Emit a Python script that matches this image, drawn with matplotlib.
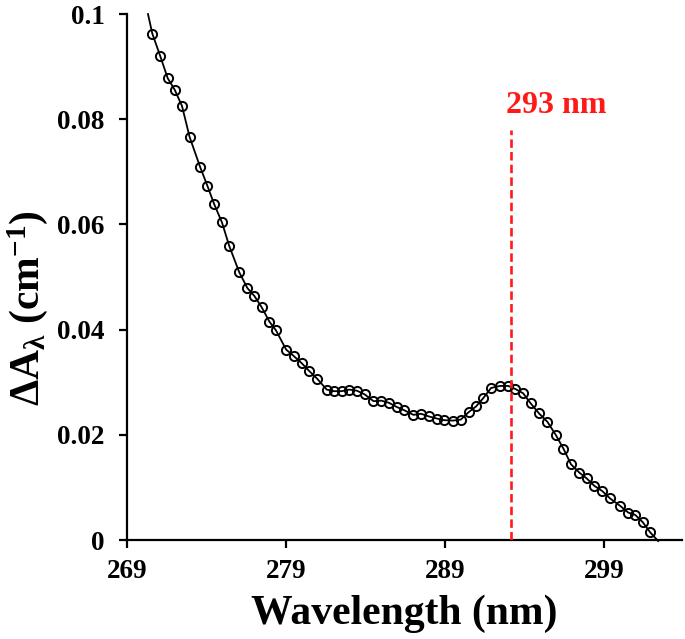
import matplotlib
matplotlib.use("Agg")
import matplotlib.pyplot as plt
from matplotlib.ticker import FixedLocator, FixedFormatter

plt.rcParams['font.family'] = ['Liberation Serif', 'DejaVu Serif']
plt.rcParams['font.weight'] = 'bold'
plt.rcParams['mathtext.fontset'] = 'custom'
plt.rcParams['mathtext.rm'] = 'Liberation Serif:bold'
plt.rcParams['mathtext.it'] = 'Liberation Serif:bold'
plt.rcParams['mathtext.bf'] = 'Liberation Serif:bold'

# Measured points (wavelength nm, delta A cm^-1)
wavelength = [270.59, 271.08, 271.56, 272.00, 272.46, 272.94, 273.59, 274.06, 274.49, 274.97,
              275.43, 276.06, 276.57, 277.01, 277.46, 277.96, 278.36, 279.01, 279.48, 279.99,
              280.47, 280.95, 281.56, 282.02, 282.50, 282.98, 283.45, 283.94, 284.50, 284.99,
              285.47, 285.96, 286.42, 287.01, 287.49, 287.98, 288.48, 288.91, 289.48, 289.99,
              290.48, 290.95, 291.41, 291.89, 292.46, 292.98, 293.43, 293.91, 294.38, 294.90,
              295.43, 295.96, 296.44, 296.92, 297.45, 297.91, 298.39, 298.89, 299.38, 300.01,
              300.53, 300.95, 301.43, 301.89]
delta_a = [0.0963, 0.0921, 0.0878, 0.0856, 0.0825, 0.0766, 0.0710, 0.0673, 0.0638, 0.0604,
           0.0559, 0.0509, 0.0479, 0.0464, 0.0443, 0.0415, 0.0399, 0.0362, 0.0350, 0.0336,
           0.0321, 0.0307, 0.0286, 0.0283, 0.0283, 0.0286, 0.0284, 0.0277, 0.0264, 0.0265,
           0.0261, 0.0253, 0.0247, 0.0238, 0.0240, 0.0235, 0.0231, 0.0228, 0.0227, 0.0229,
           0.0243, 0.0254, 0.0270, 0.0289, 0.0293, 0.0293, 0.0287, 0.0279, 0.0260, 0.0241,
           0.0225, 0.0200, 0.0174, 0.0144, 0.0128, 0.0117, 0.0103, 0.0093, 0.0079, 0.0065,
           0.0052, 0.0048, 0.0034, 0.0015]

# Fitted curve ends (drawn line only, beyond the markers)
line_start = (270.32, 0.1000)
line_end = (302.40, -0.0002)

peak_wavelength = 293.15
peak_line_top = 0.078
peak_label = "293 nm"

x_ticks = [269, 279, 289, 299]
x_tick_labels = ["269", "279", "289", "299"]
y_ticks = [0, 0.02, 0.04, 0.06, 0.08, 0.1]
y_tick_labels = ["0", "0.02", "0.04", "0.06", "0.08", "0.1"]

fig = plt.figure(figsize=(6.85, 6.39), dpi=100)
ax = fig.add_axes([0.1854, 0.1549, 0.8102, 0.8231])

line_x = [line_start[0]] + wavelength + [line_end[0]]
line_y = [line_start[1]] + delta_a + [line_end[1]]
ax.plot(line_x, line_y, color='black', lw=1.3, zorder=2, clip_on=False)
ax.plot(wavelength, delta_a, linestyle='none', marker='o', markersize=6.6,
        markerfacecolor='none', markeredgecolor='black', markeredgewidth=1.4, zorder=3)

ax.plot([peak_wavelength, peak_wavelength], [0, peak_line_top], color='#ff1a1a',
        lw=1.9, linestyle=(0, (3.2, 1.6)), zorder=4)
ax.text(peak_wavelength + 2.85, 0.0812, peak_label, color='#ff1a1a', fontsize=23,
        fontweight='bold', ha='center', va='baseline')

ax.set_xlim(269, 303.9)
ax.set_ylim(0, 0.1)
ax.xaxis.set_major_locator(FixedLocator(x_ticks))
ax.xaxis.set_major_formatter(FixedFormatter(x_tick_labels))
ax.yaxis.set_major_locator(FixedLocator(y_ticks))
ax.yaxis.set_major_formatter(FixedFormatter(y_tick_labels))

for s in ['top', 'right']:
    ax.spines[s].set_visible(False)
for s in ['left', 'bottom']:
    ax.spines[s].set_linewidth(1.6)

ax.tick_params(axis='both', direction='out', length=6, width=1.6, labelsize=19.5)
ax.tick_params(axis='x', pad=8)
ax.tick_params(axis='y', pad=10)
for lab in ax.get_xticklabels() + ax.get_yticklabels():
    lab.set_fontweight('bold')

ax.set_xlabel('Wavelength (nm)', fontsize=30, fontweight='bold', labelpad=7)
ax.set_ylabel(r'$\Delta$A$_{\lambda}$ (cm$^{-1}$)', fontsize=30, fontweight='bold')
ax.yaxis.set_label_coords(-0.138, 0.44)

fig.savefig('out.png', dpi=100)
